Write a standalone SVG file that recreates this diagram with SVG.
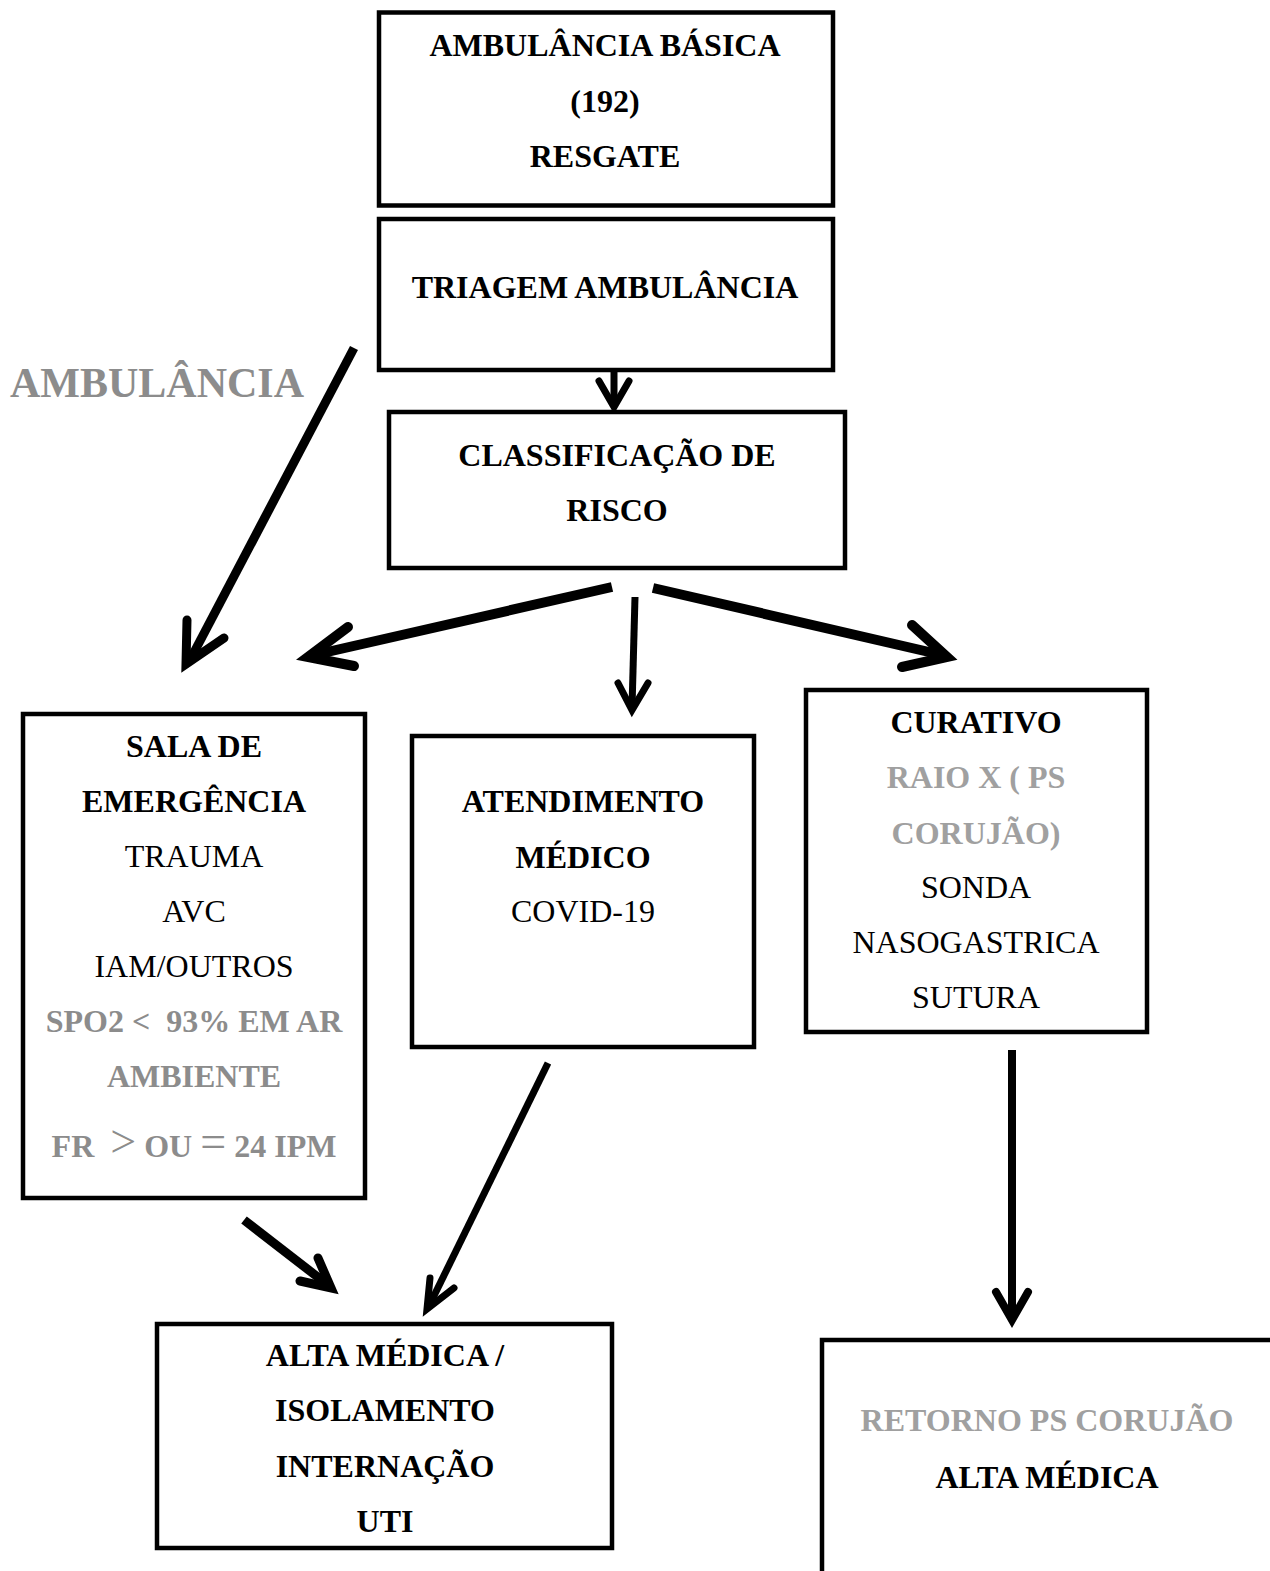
<svg xmlns="http://www.w3.org/2000/svg" width="1270" height="1571" viewBox="0 0 1270 1571">
<style>
.box{fill:#fff;stroke:#000;stroke-width:4.5}
text{font-family:"Liberation Serif","Times New Roman",serif;font-size:32px;text-anchor:middle;fill:#000}
.b{font-weight:bold}
.g{fill:#8c8c8c}
.lg{fill:#a0a0a0}
.sym{font-weight:normal;font-size:46px}
.shaft{fill:none;stroke:#000;stroke-linecap:butt}
.head{fill:none;stroke:#000;stroke-linecap:round;stroke-linejoin:miter}
</style>
<rect width="1270" height="1571" fill="#fff"/>
<g id="connectors">
  <path class="shaft" d="M614 360 L614 404" stroke-width="7"/>
  <path class="head" d="M599 381 L614 407 L629 381" stroke-width="7"/>
  <path class="shaft" d="M354 348 L190 660" stroke-width="9"/>
  <path class="head" d="M187 620 L186 664 L224 638" stroke-width="9"/>
  <path class="shaft" d="M612 587 L314 655" stroke-width="10"/>
  <path class="head" d="M348 627 L308 657 L354 666" stroke-width="10"/>
  <path class="shaft" d="M635 597 L632 708" stroke-width="7"/>
  <path class="head" d="M618 683 L632 710 L648 683" stroke-width="7"/>
  <path class="shaft" d="M653 588 L942 655" stroke-width="10"/>
  <path class="head" d="M912 625 L947 657 L902 667" stroke-width="10"/>
  <path class="shaft" d="M244 1220 L328 1285" stroke-width="9"/>
  <path class="head" d="M318 1258 L331 1288 L300 1281" stroke-width="9"/>
  <path class="shaft" d="M548 1063 L429 1306" stroke-width="7"/>
  <path class="head" d="M430 1278 L427 1309 L454 1288" stroke-width="7"/>
  <path class="shaft" d="M1012 1050 L1012 1318" stroke-width="8"/>
  <path class="head" d="M996 1292 L1012 1320 L1028 1292" stroke-width="8"/>
</g>
<text x="10" y="397" style="text-anchor:start;font-size:42px" class="b g">AMBULÂNCIA</text>
<g id="ambulancia-basica">
  <rect class="box" x="379" y="12.5" width="454" height="193"/>
  <text class="b" x="605" y="56">AMBULÂNCIA BÁSICA</text>
  <text class="b" x="605" y="112">(192)</text>
  <text class="b" x="605" y="167">RESGATE</text>
</g>
<g id="triagem">
  <rect class="box" x="379" y="219" width="454" height="151"/>
  <text class="b" x="605" y="298">TRIAGEM AMBULÂNCIA</text>
</g>
<g id="classificacao">
  <rect class="box" x="389" y="412" width="456" height="156"/>
  <text class="b" x="617" y="466">CLASSIFICAÇÃO DE</text>
  <text class="b" x="617" y="521">RISCO</text>
</g>
<g id="sala-emergencia">
  <rect class="box" x="23" y="714" width="342" height="484"/>
  <text class="b" x="194" y="757">SALA DE</text>
  <text class="b" x="194" y="812">EMERGÊNCIA</text>
  <text x="194" y="867">TRAUMA</text>
  <text x="194" y="922">AVC</text>
  <text x="194" y="977">IAM/OUTROS</text>
  <text class="b g" x="194" y="1032">SPO2 &lt;&#160; 93% EM AR</text>
  <text class="b g" x="194" y="1087">AMBIENTE</text>
  <text class="b g" x="194" y="1157">FR&#160; <tspan class="sym">&gt;</tspan> OU <tspan class="sym">=</tspan> 24 IPM</text>
</g>
<g id="atendimento">
  <rect class="box" x="412" y="736" width="342" height="311"/>
  <text class="b" x="583" y="812">ATENDIMENTO</text>
  <text class="b" x="583" y="868">MÉDICO</text>
  <text x="583" y="922">COVID-19</text>
</g>
<g id="curativo">
  <rect class="box" x="806" y="690" width="341" height="342"/>
  <text class="b" x="976" y="733">CURATIVO</text>
  <text class="b lg" x="976" y="788">RAIO X ( PS</text>
  <text class="b lg" x="976" y="844">CORUJÃO)</text>
  <text x="976" y="898">SONDA</text>
  <text x="976" y="953">NASOGASTRICA</text>
  <text x="976" y="1008">SUTURA</text>
</g>
<g id="alta-medica">
  <rect class="box" x="157" y="1324" width="455" height="224"/>
  <text class="b" x="385" y="1366">ALTA MÉDICA /</text>
  <text class="b" x="385" y="1421">ISOLAMENTO</text>
  <text class="b" x="385" y="1477">INTERNAÇÃO</text>
  <text class="b" x="385" y="1532">UTI</text>
</g>
<g id="retorno">
  <rect class="box" x="822" y="1340" width="470" height="260"/>
  <text class="b lg" x="1047" y="1431">RETORNO PS CORUJÃO</text>
  <text class="b" x="1047" y="1488">ALTA MÉDICA</text>
</g>
</svg>
